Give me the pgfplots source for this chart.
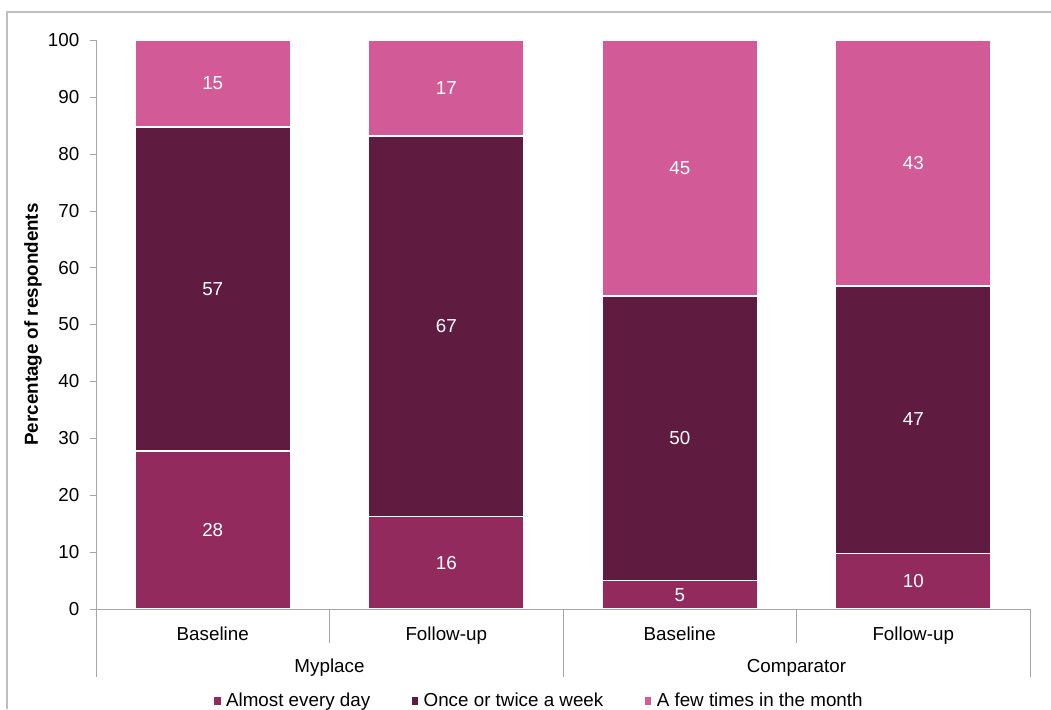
\documentclass[border=0pt]{standalone}
\usepackage{fontspec}
\setmainfont{Liberation Sans}
\usepackage{pgfplots}
\pgfplotsset{compat=1.18}
\definecolor{cA}{HTML}{922A5E}
\definecolor{cB}{HTML}{5F1B40}
\definecolor{cC}{HTML}{D25A96}
\definecolor{axgray}{HTML}{A6A6A6}
\definecolor{framegray}{HTML}{BFBFBF}
\begin{document}
\fontsize{9.4}{11}\selectfont
\begin{tikzpicture}
\useasboundingbox (0,0) rectangle (525.5pt,354.5pt);
\draw[framegray, line width=0.75pt] (3.5pt,0) -- (3.5pt,348.5pt) -- (525.5pt,348.5pt);
\begin{axis}[
  at={(48pt,50pt)}, anchor=south west,
  scale only axis, width=467pt, height=284.5pt,
  ybar stacked, bar width=77.5pt,
  xmin=-0.5, xmax=3.5, ymin=0, ymax=100,
  axis lines=left, axis line style={axgray, -},
  axis on top,
  clip=false,
  xtick={0,1,2,3},
  xticklabels={Baseline,Follow-up,Baseline,Follow-up},
  xtick style={draw=none},
  ytick={0,10,...,100},
  ytick style={axgray},
  tick align=outside, major tick length=3pt,
  /pgf/number format/assume math mode=true,
  ylabel={\bfseries Percentage of respondents},
  every axis y label/.style={at={(axis description cs:-0.0674,0.5)},rotate=90,anchor=center},
  xticklabel style={anchor=base, yshift=-12.5pt},
  yticklabel style={anchor=east, xshift=-2pt},
  font=\fontsize{9.4}{11}\selectfont,
  legend columns=3,
  legend style={at={(0.475,0)}, anchor=center, yshift=-46pt, draw=none, fill=none,
    /tikz/every even column/.append style={column sep=18pt}},
  legend image code/.code={\fill[#1] (0pt,-2.2pt) rectangle (4pt,2.2pt);},
]
\addplot[fill=cA, draw=white, line width=0.7pt] coordinates {(0,27.8) (1,16.3) (2,5.0) (3,9.8)};
\addplot[fill=cB, draw=white, line width=0.7pt] coordinates {(0,56.9) (1,66.8) (2,50.0) (3,47.0)};
\addplot[fill=cC, draw=white, line width=0.7pt] coordinates {(0,15.3) (1,16.9) (2,45.0) (3,43.2)};
\legend{Almost every day, Once or twice a week, A few times in the month}
\draw[axgray] (axis cs:-0.5,0) -- ++(0pt,-34pt);
\draw[axgray] (axis cs:0.5,0) -- ++(0pt,-17pt);
\draw[axgray] (axis cs:1.5,0) -- ++(0pt,-34pt);
\draw[axgray] (axis cs:2.5,0) -- ++(0pt,-17pt);
\draw[axgray] (axis cs:3.5,0) -- ++(0pt,-34pt);
\node[anchor=base] at (axis cs:0.5,0) [yshift=-31.5pt] {Myplace};
\node[anchor=base] at (axis cs:2.5,0) [yshift=-31.5pt] {Comparator};
\end{axis}
\begin{axis}[
  at={(48pt,50pt)}, anchor=south west,
  scale only axis, width=467pt, height=284.5pt,
  xmin=-0.5, xmax=3.5, ymin=0, ymax=100,
  hide axis, clip=false,
  font=\fontsize{9.4}{11}\selectfont,
]
\addplot[draw=none, nodes near coords, point meta=explicit symbolic,
  every node near coord/.append style={anchor=center, text=white, font=\fontsize{9.4}{11}\selectfont}]
  coordinates {
  (0,13.9) [28] (0,56.25) [57] (0,92.35) [15]
  (1,8.15) [16] (1,49.7) [67] (1,91.55) [17]
  (2,2.5) [5] (2,30.0) [50] (2,77.5) [45]
  (3,4.9) [10] (3,33.3) [47] (3,78.4) [43]
  };
\end{axis}
\end{tikzpicture}
\end{document}
